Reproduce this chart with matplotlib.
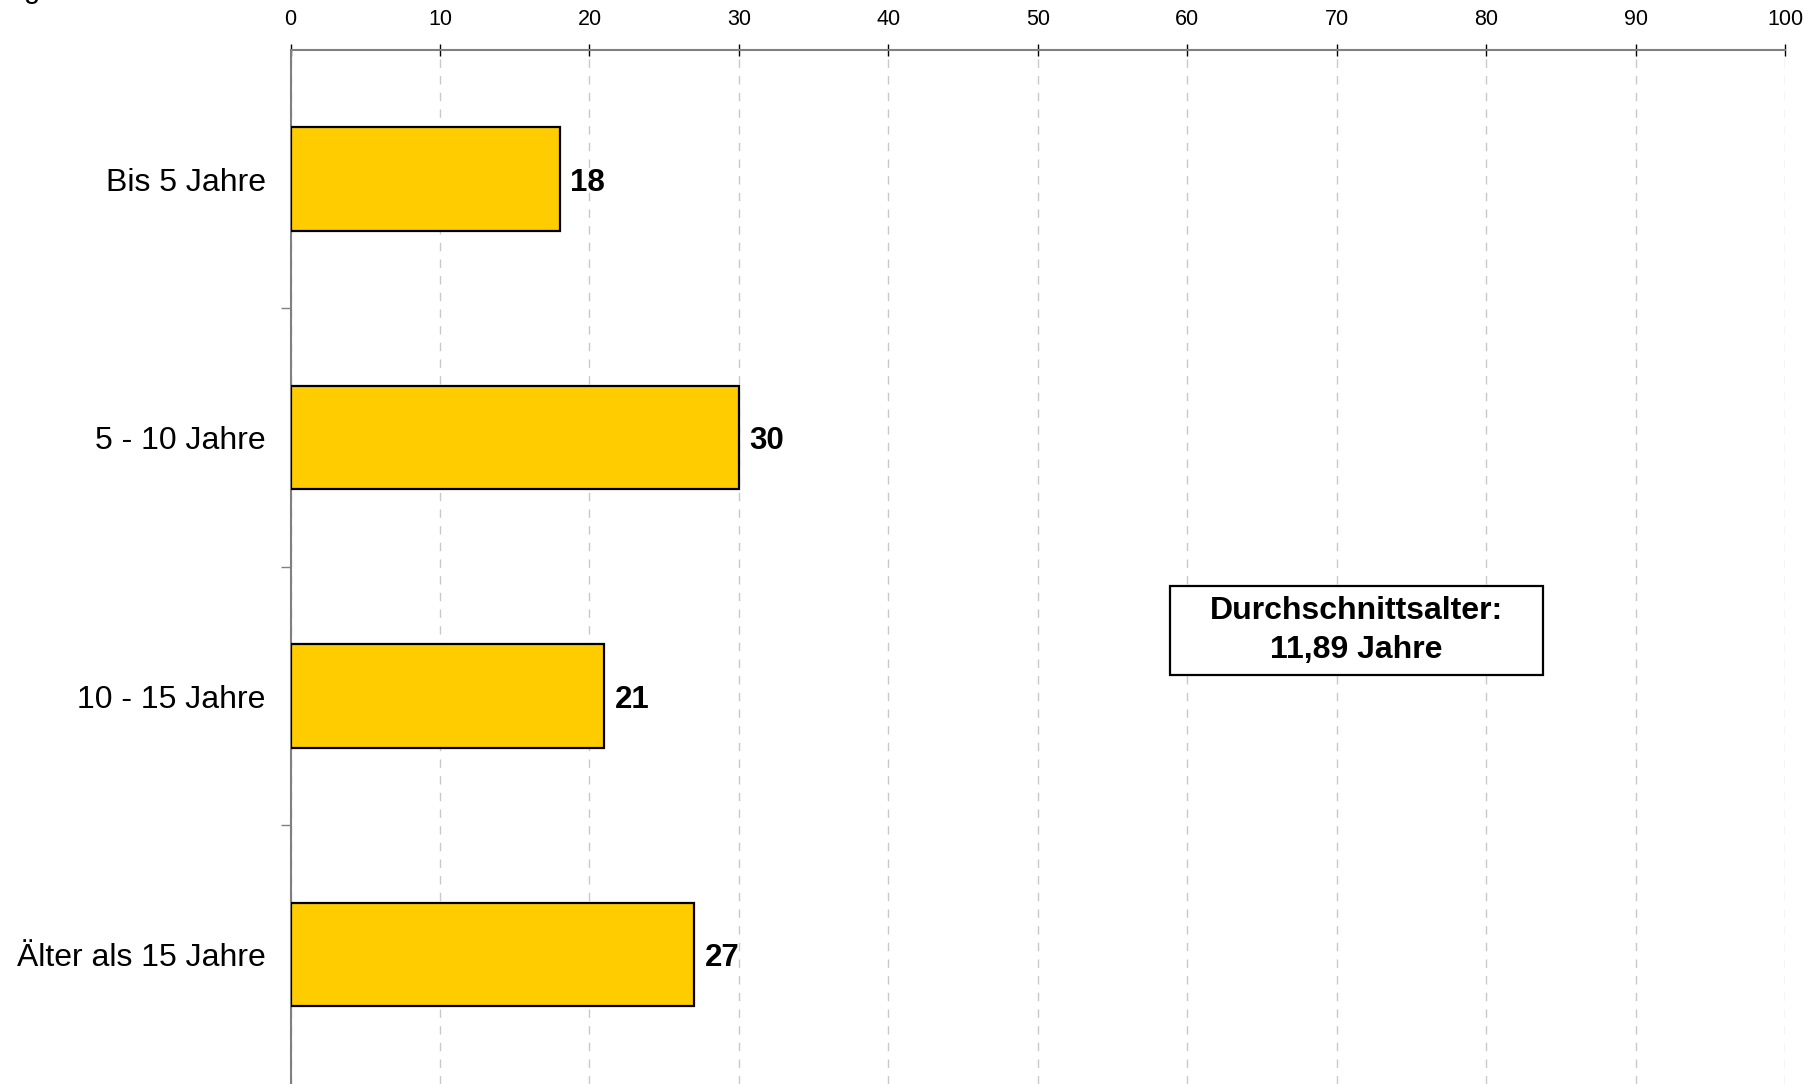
import numpy as np
import matplotlib
matplotlib.use("Agg")
import matplotlib.pyplot as plt
from matplotlib.patches import Rectangle

plt.rcParams['font.family'] = ['Liberation Sans', 'DejaVu Sans']

categories = ["Bis 5 Jahre", "5 - 10 Jahre", "10 - 15 Jahre", "Älter als 15 Jahre"]
values = [18, 30, 21, 27]
xticks = [0, 10, 20, 30, 40, 50, 60, 70, 80, 90, 100]
note_text = "Durchschnittsalter:\n11,89 Jahre"

fig = plt.figure(figsize=(18.16, 10.84), dpi=100)
ax = fig.add_axes([0.160, 0.0, 0.823, 0.954])

ypos = np.arange(len(categories))
ax.barh(ypos, values, height=0.4, color='#FFCC00', edgecolor='black', linewidth=1.6, zorder=3)
for y, v in zip(ypos, values):
    ax.text(v + 0.7, y, str(v), va='center_baseline', ha='left', fontsize=22.5,
            fontweight='bold', zorder=4)

ax.set_xlim(0, 100)
ax.set_ylim(len(categories) - 0.5, -0.5)
ax.set_xticks(xticks)
ax.xaxis.tick_top()
ax.tick_params(axis='x', direction='inout', length=8, width=1, color='black',
               labelsize=15.5, pad=10)
ax.set_yticks(ypos)
ax.set_yticklabels(categories, fontsize=23)
ax.set_yticks(ypos[:-1] + 0.5, minor=True)
ax.tick_params(axis='y', which='major', length=0, pad=18)
ax.tick_params(axis='y', which='minor', length=7, width=1, color='#808080', direction='out')

ax.grid(axis='x', linestyle=(0, (6, 6)), color='#c8c8c8', linewidth=1, zorder=0)
ax.set_axisbelow(True)
for s in ['right', 'bottom']:
    ax.spines[s].set_visible(False)
for s in ['left', 'top']:
    ax.spines[s].set_color('#808080')
    ax.spines[s].set_linewidth(1.5)

ax.add_patch(Rectangle((0.5884, 0.3956), 0.2496, 0.086, transform=ax.transAxes,
                       facecolor='white', edgecolor='black', linewidth=1.6, zorder=5))
ax.text(0.713, 0.4386, note_text, transform=ax.transAxes, ha='center', va='center',
        fontsize=23, fontweight='bold', linespacing=1.38, zorder=6)

# cut-off title fragment at the top edge
fig.text(0.013, 1 + 2 / 1084, "g", fontsize=21, va='baseline', ha='left')

fig.savefig('out.png', dpi=100)
plt.close(fig)
